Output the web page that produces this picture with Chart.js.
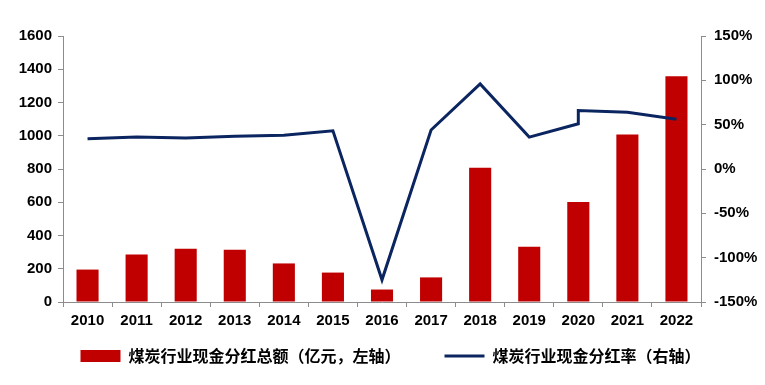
<!DOCTYPE html>
<html>
<head>
<meta charset="utf-8">
<script src="https://cdn.jsdelivr.net/npm/chart.js@4"></script>
<style>
  html, body { margin: 0; padding: 0; background: #fff; }
  #wrap { width: 765px; height: 385px; }
</style>
</head>
<body>
<div id="wrap"><canvas id="chart_dividend" width="765" height="385"></canvas></div>
<script>
var years = ['2010', '2011', '2012', '2013', '2014', '2015', '2016', '2017', '2018', '2019', '2020', '2021', '2022'];
// 分红总额（亿元）
var payout = [195, 285, 320, 315, 232, 177, 75, 148, 808, 332, 602, 1008, 1358];
// 分红率（%）, 2020 has a step in the source line
var rateYears = ['2010', '2011', '2012', '2013', '2014', '2015', '2016', '2017', '2018', '2019', '2020', '2020', '2021', '2022'];
var rateValues = [34, 36, 35, 37, 38, 43, -125, 44, 96, 36, 51, 66, 64, 56];
var leftTicks = [0, 200, 400, 600, 800, 1000, 1200, 1400, 1600];
var rightTicks = [-150, -100, -50, 0, 50, 100, 150];

var tickFont = { family: 'Arial, "Liberation Sans", sans-serif', size: 15, weight: 'bold' };
var axisGray = '#8c8c8c';

var lineData = rateYears.map(function (y, i) {
  return { x: y, y: rateValues[i] };
});

// legend: keep the wide gap between items but not the tall vertical padding
var legendGap = {
  id: 'legendGap',
  beforeLayout: function (chart) {
    var lg = chart.legend;
    if (!lg || lg._gapFixed) return;
    lg._gapFixed = true;
    var fit = lg.fit, draw = lg.draw;
    lg.fit = function () {
      fit.call(this);
      this.height -= 24;
    };
    lg.draw = function () {
      var t = this.top, l = this.left, r = this.right;
      this.top = t - 31;
      this.left = l + 8;
      this.right = r + 8;
      draw.apply(this, arguments);
      this.top = t;
      this.left = l;
      this.right = r;
    };
  }
};

var ctx = document.getElementById('chart_dividend');
var myChart = new Chart(ctx, {
  type: 'bar',
  data: {
    labels: years,
    datasets: [{
      type: 'bar',
      label: '煤炭行业现金分红总额（亿元，左轴）',
      data: payout,
      backgroundColor: '#c00000',
      borderWidth: 0,
      barPercentage: 0.45,
      categoryPercentage: 1,
      yAxisID: 'y',
      pointStyle: 'rect',
      order: 1
    }, {
      type: 'line',
      label: '煤炭行业现金分红率（右轴）',
      data: lineData,
      borderColor: '#0b2561',
      backgroundColor: '#0b2561',
      borderWidth: 3,
      tension: 0,
      pointRadius: 0,
      pointStyle: 'line',
      yAxisID: 'y1',
      order: 0
    }]
  },
  plugins: [legendGap],
  options: {
    responsive: false,
    animation: false,
    layout: { padding: { top: 36, left: 0, right: 0, bottom: 4 } },
    plugins: {
      tooltip: { enabled: false },
      legend: {
        position: 'bottom',
        labels: {
          usePointStyle: true,
          pointStyleWidth: 40,
          boxHeight: 12,
          padding: 44,
          color: '#000',
          font: { family: '"Noto Sans CJK SC", sans-serif', size: 16, weight: 'bold' },
          sort: function (a, b) { return a.datasetIndex - b.datasetIndex; }
        }
      }
    },
    scales: {
      x: {
        offset: true,
        grid: { display: true, drawOnChartArea: false, offset: true, color: axisGray, tickLength: 5 },
        border: { color: axisGray, width: 1 },
        ticks: { color: '#000', font: tickFont, padding: 5, maxRotation: 0 }
      },
      y: {
        position: 'left',
        min: 0,
        max: 1600,
        afterBuildTicks: function (scale) {
          scale.ticks = leftTicks.map(function (v) { return { value: v }; });
        },
        afterFit: function (scale) { scale.width = 63; },
        grid: { display: true, drawOnChartArea: false, color: axisGray, tickLength: 5 },
        border: { color: axisGray, width: 1 },
        ticks: {
          color: '#000', font: tickFont, padding: 6,
          callback: function (v) { return String(v); }
        }
      },
      y1: {
        position: 'right',
        min: -150,
        max: 150,
        afterBuildTicks: function (scale) {
          scale.ticks = rightTicks.map(function (v) { return { value: v }; });
        },
        afterFit: function (scale) { scale.width = 64; },
        grid: { display: true, drawOnChartArea: false, color: axisGray, tickLength: 5 },
        border: { color: axisGray, width: 1 },
        ticks: {
          color: '#000', font: tickFont, padding: 8,
          callback: function (v) { return v + '%'; }
        }
      }
    }
  }
});
</script>
</body>
</html>
